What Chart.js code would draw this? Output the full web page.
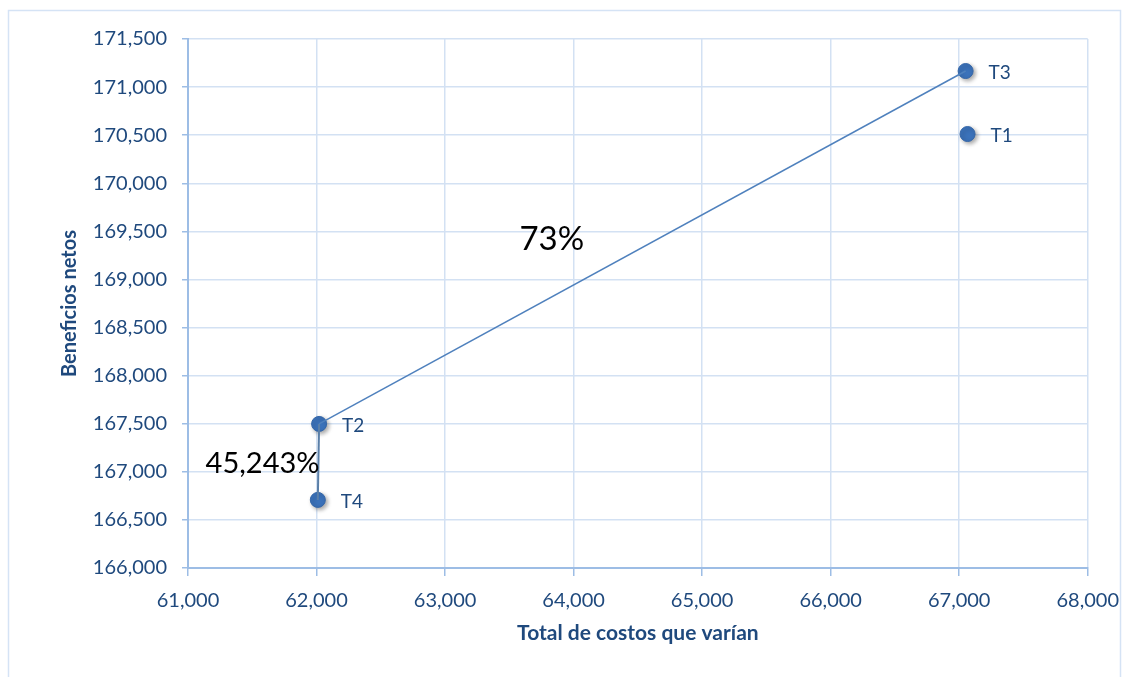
<!DOCTYPE html>
<html>
<head>
<meta charset="utf-8">
<script src="https://cdn.jsdelivr.net/npm/chart.js@4/dist/chart.umd.min.js"></script>
<style>
  html, body { margin: 0; padding: 0; background: #fff; }
  #wrap { width: 1132px; height: 677px; position: relative; }
</style>
</head>
<body>
<div id="wrap"><canvas id="chart"></canvas></div>
<script>
// Treatments: total varying cost (x) vs net benefits (y)
const treatments = ["T1", "T2", "T3", "T4"];
const costs = [67065, 62020, 67050, 62010];
const benefits = [170512, 167498, 171167, 166708];

// Dominance path drawn as a line: T4 -> T2 -> T3
const pathOrder = ["T4", "T2", "T3"];

// Rate-of-return annotations (text, x, y in data units)
const rateLabels = ["73%", "45,243%"];
const rateX = [63830, 61580];
const rateY = [169420, 167085];
const rateSize = [33, 29];

const BLUE = "#3b72ba";
const LINE = "#4f81bd";
const TEXT = "#1f497d";
const GRID = "#d3e1f3";
const AXIS = "#9dbde5";
const FONT = "Lato, 'Open Sans', sans-serif";

const points = treatments.map((t, i) => ({ x: costs[i], y: benefits[i] }));
const path = pathOrder.map((t) => points[treatments.indexOf(t)]);

const fmt = (v) => Number(v).toLocaleString("en-US");

// light outer frame like the Office chart area
const framePlugin = {
    id: "frame",
    beforeDraw(chart) {
        const ctx = chart.ctx;
        ctx.save();
        ctx.strokeStyle = "#d5e3f5";
        ctx.lineWidth = 1.5;
        ctx.strokeRect(8.5, 10.5, 1112, 680);
        ctx.restore();
    },
};

// soft shadow under markers
const shadowPlugin = {
    id: "markerShadow",
    beforeDatasetDraw(chart, args) {
        if (args.index !== 1) return;
        const ctx = chart.ctx;
        ctx.save();
        ctx.shadowColor = "rgba(0,0,0,0.35)";
        ctx.shadowBlur = 4;
        ctx.shadowOffsetX = 2;
        ctx.shadowOffsetY = 2;
    },
    afterDatasetDraw(chart, args) {
        if (args.index !== 1) return;
        chart.ctx.restore();
    },
};

// point labels and rate annotations
const labelPlugin = {
    id: "labels",
    afterDatasetsDraw(chart) {
        const ctx = chart.ctx;
        const xs = chart.scales.x, ys = chart.scales.y;
        ctx.save();
        ctx.font = "19px " + FONT;
        ctx.fillStyle = TEXT;
        ctx.textAlign = "left";
        ctx.textBaseline = "middle";
        chart.getDatasetMeta(1).data.forEach((el, i) => {
            ctx.fillText(treatments[i], el.x + 23, el.y + 2);
        });
        ctx.fillStyle = "#000";
        ctx.textAlign = "center";
        rateLabels.forEach((txt, i) => {
            ctx.font = rateSize[i] + "px " + FONT;
            ctx.fillText(txt, xs.getPixelForValue(rateX[i]), ys.getPixelForValue(rateY[i]));
        });
        ctx.restore();
    },
};

new Chart(document.getElementById("chart"), {
    type: "scatter",
    data: {
        datasets: [
            {
                data: path,
                showLine: true,
                borderColor: LINE,
                borderWidth: 1.5,
                pointRadius: 0,
                segment: {
                    borderColor: (c) => (c.p0DataIndex === 0 ? "#5a7fa8" : LINE),
                    borderWidth: (c) => (c.p0DataIndex === 0 ? 2 : 1.5),
                },
            },
            {
                data: points,
                backgroundColor: BLUE,
                borderColor: "#3466a8",
                borderWidth: 1,
                pointRadius: 7.5,
            },
        ],
    },
    options: {
        responsive: true,
        maintainAspectRatio: false,
        animation: false,
        layout: { padding: { left: 56, top: 39, right: 40, bottom: 27 } },
        plugins: {
            legend: { display: false },
            tooltip: { enabled: false },
        },
        scales: {
            x: {
                type: "linear",
                min: 61000,
                max: 68000,
                afterFit: (s) => { s.height = 82; },
                ticks: {
                    stepSize: 1000,
                    color: TEXT,
                    font: { family: FONT, size: 20 },
                    padding: 13,
                    callback: fmt,
                },
                grid: { color: GRID, lineWidth: 1.5, tickLength: 8, tickColor: AXIS },
                border: { color: AXIS, width: 2 },
                title: {
                    display: true,
                    text: "Total de costos que varían",
                    color: TEXT,
                    font: { family: FONT, size: 21, weight: "bold" },
                    padding: { top: 8, bottom: 4 },
                },
            },
            y: {
                type: "linear",
                min: 166000,
                max: 171500,
                afterFit: (s) => { s.width = 132; },
                ticks: {
                    stepSize: 500,
                    color: TEXT,
                    font: { family: FONT, size: 20 },
                    padding: 15,
                    callback: fmt,
                },
                grid: { color: GRID, lineWidth: 1.5, tickLength: 6, tickColor: AXIS },
                border: { color: AXIS, width: 2 },
                title: {
                    display: true,
                    text: "Beneficios netos",
                    color: TEXT,
                    font: { family: FONT, size: 20, weight: "bold" },
                    padding: { top: 2, bottom: 4 },
                },
            },
        },
    },
    plugins: [framePlugin, shadowPlugin, labelPlugin],
});
</script>
</body>
</html>
